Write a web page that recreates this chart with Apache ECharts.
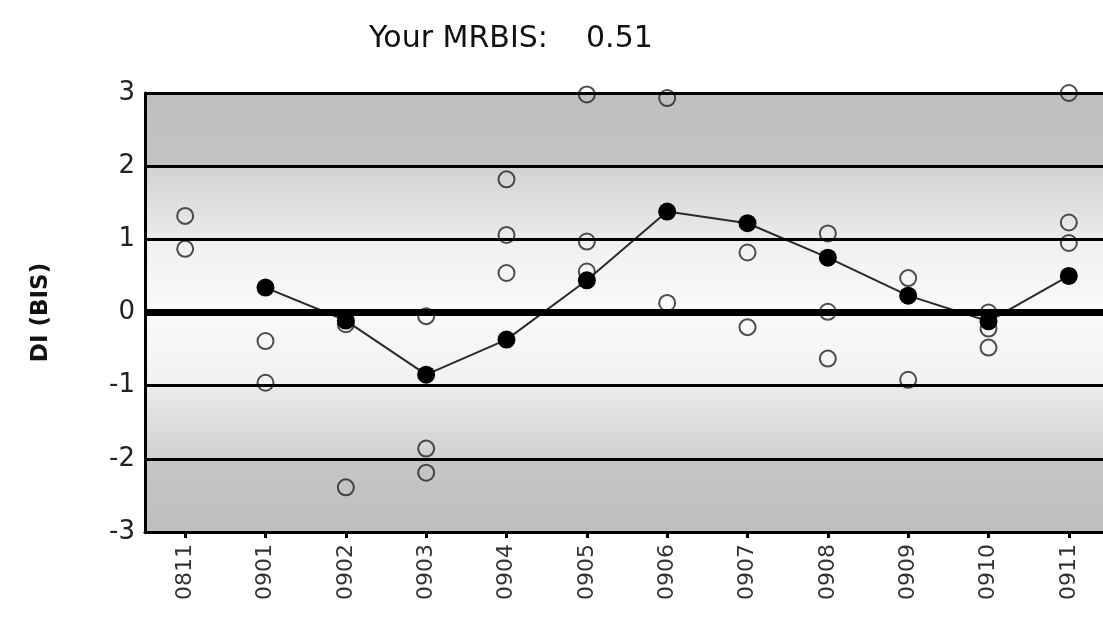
<!DOCTYPE html>
<html>
<head>
<meta charset="utf-8">
<script src="https://cdn.jsdelivr.net/npm/echarts@6/dist/echarts.min.js"></script>
<style>
  html, body { margin: 0; padding: 0; background: #ffffff; overflow: hidden; }
  #chart { width: 1112px; height: 617px; }
</style>
</head>
<body>
<div id="chart"></div>
<script>
// Months (yymm)
const months = ['0811', '0901', '0902', '0903', '0904', '0905', '0906', '0907', '0908', '0909', '0910', '0911'];

// Monthly DI (BIS) – filled markers joined by a line
const monthlyDI = [null, 0.34, -0.11, -0.85, -0.37, 0.44, 1.38, 1.22, 0.75, 0.23, -0.12, 0.50];

// Individual readings per month – open markers (up to three per month)
const readingsA = [1.32, -0.39, -0.16, -0.05, 1.82, 2.98, 2.93, 0.82, 1.08, 0.47, 0.00, 3.00];
const readingsB = [0.87, -0.96, -2.39, -1.86, 1.06, 0.97, 0.13, -0.20, 0.01, -0.92, -0.22, 1.23];
const readingsC = [null, null, null, -2.19, 0.54, 0.56, null, null, -0.63, null, -0.48, 0.95];

// Value axis ticks
const yTicks = [-3, -2, -1, 0, 1, 2, 3];
const headline = 'Your MRBIS:    0.51';

const FONT = 'DejaVu Sans';

function toPoints(arr) {
  const pts = [];
  arr.forEach((v, i) => { if (v !== null) pts.push([months[i], v]); });
  return pts;
}
const openPoints = [].concat(toPoints(readingsA), toPoints(readingsB), toPoints(readingsC));

// Shaded background bands, darker towards the extremes
function grad(top, bottom) {
  return new echarts.graphic.LinearGradient(0, 0, 0, 1, [
    { offset: 0, color: top },
    { offset: 1, color: bottom }
  ]);
}
const bandFills = {
  '2': grad('#bfbfbf', '#c3c3c3'),
  '1': grad('#d2d2d2', '#ebebeb'),
  '0': grad('#f0f0f0', '#fafafa'),
  '-1': grad('#fafafa', '#f1f1f1'),
  '-2': grad('#ebebeb', '#d0d0d0'),
  '-3': grad('#c6c6c6', '#bebebe')
};
const bands = [];
for (let i = 0; i < yTicks.length - 1; i++) {
  const lo = yTicks[i], hi = yTicks[i + 1];
  bands.push([{ yAxis: hi, itemStyle: { color: bandFills[String(lo)] } }, { yAxis: lo }]);
}

// Horizontal rules at every tick above the floor, heavier at zero
const rules = yTicks.filter(v => v > -3).map(v => ({
  yAxis: v,
  lineStyle: { color: '#000000', width: v === 0 ? 7 : 3, type: 'solid' }
}));

const chart = echarts.init(document.getElementById('chart'), null, { renderer: 'canvas' });

chart.setOption({
  animation: false,
  backgroundColor: '#ffffff',
  title: {
    text: headline,
    left: 364,
    top: 19,
    textStyle: { fontFamily: FONT, fontSize: 30, fontWeight: 'normal', color: '#111111' }
  },
  grid: { left: 145, top: 93, width: 964, height: 439, containLabel: false },
  xAxis: {
    type: 'category',
    data: months,
    boundaryGap: true,
    z: 1,
    axisLine: { show: true, onZero: false, lineStyle: { color: '#000000', width: 3 } },
    axisTick: { show: true, alignWithLabel: true, length: 6, lineStyle: { color: '#000000', width: 3 } },
    axisLabel: { rotate: 90, margin: 12, fontFamily: FONT, fontSize: 22, color: '#333333' },
    splitLine: { show: false }
  },
  yAxis: {
    type: 'value',
    min: -3,
    max: 3,
    interval: 1,
    z: 1,
    name: 'DI (BIS)',
    nameLocation: 'middle',
    nameRotate: 90,
    nameGap: 92,
    nameTextStyle: { fontFamily: FONT, fontSize: 23, fontWeight: 'bold', color: '#111111' },
    axisLine: { show: true, onZero: false, lineStyle: { color: '#000000', width: 3 } },
    axisTick: { show: false },
    axisLabel: { margin: 10, fontFamily: FONT, fontSize: 26, color: '#222222' },
    splitLine: { show: false }
  },
  series: [
    {
      // background bands only
      name: 'bands',
      type: 'scatter',
      data: [],
      z: 0,
      silent: true,
      markArea: { silent: true, data: bands }
    },
    {
      name: 'readings',
      type: 'scatter',
      data: openPoints,
      symbol: 'circle',
      symbolSize: 16,
      itemStyle: { color: 'rgba(0,0,0,0)', borderColor: '#222222', borderWidth: 2 },
      z: 3,
      markLine: {
        silent: true,
        symbol: 'none',
        label: { show: false },
        data: rules
      }
    },
    {
      name: 'DI',
      type: 'line',
      data: monthlyDI,
      symbol: 'circle',
      symbolSize: 18,
      itemStyle: { color: '#000000' },
      lineStyle: { color: '#2a2a2a', width: 2 },
      z: 4
    }
  ]
});
</script>
</body>
</html>
